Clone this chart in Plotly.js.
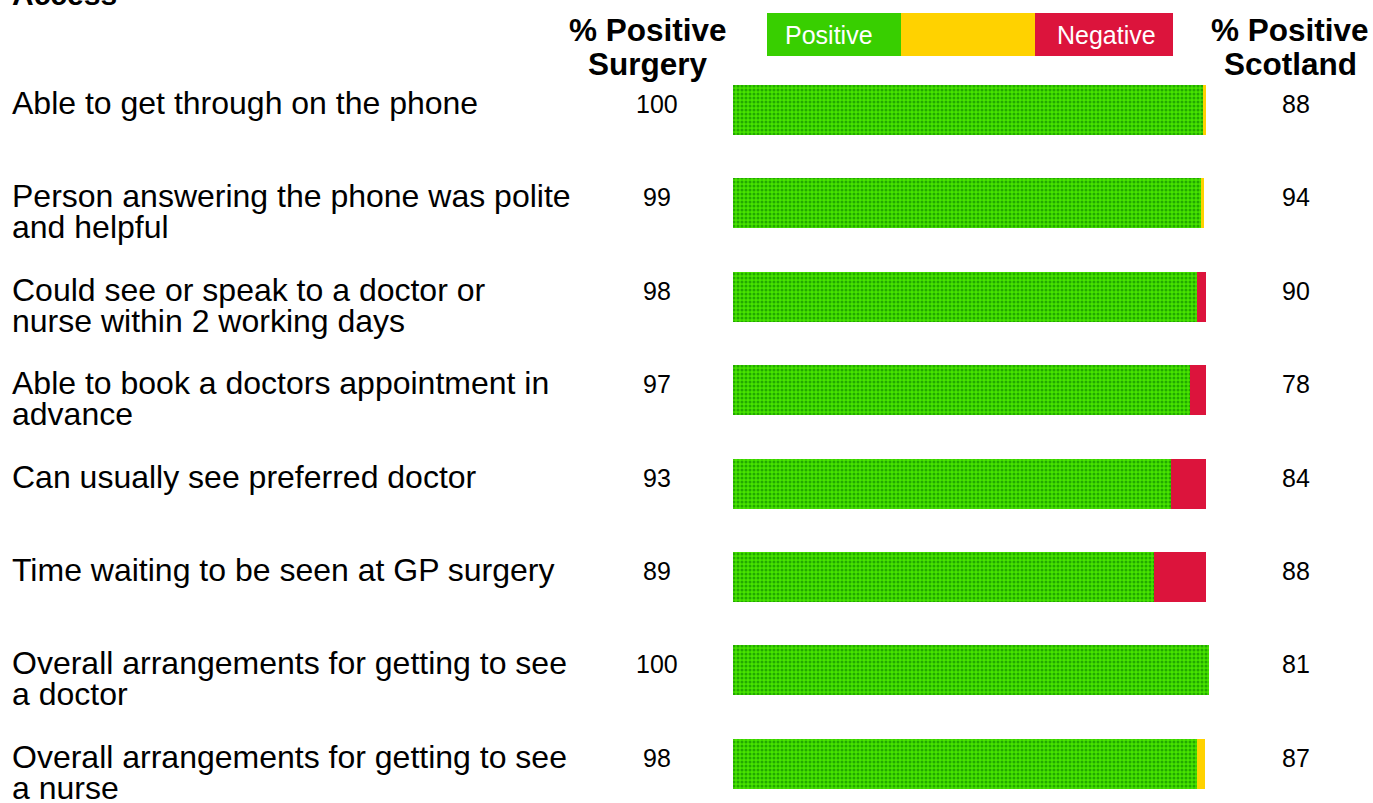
<!DOCTYPE html>
<html>
<head>
<meta charset="utf-8">
<script src="https://cdn.plot.ly/plotly-3.0.1.min.js"></script>
<style>html,body{margin:0;padding:0;background:#fff;}#chart{width:1373px;height:803px;}</style>
</head>
<body>
<div id="chart"></div>
<script>
// ---- data ----
const categories = [
  "Able to get through on the phone",
  "Person answering the phone was polite<br>and helpful",
  "Could see or speak to a doctor or<br>nurse within 2 working days",
  "Able to book a doctors appointment in<br>advance",
  "Can usually see preferred doctor",
  "Time waiting to be seen at GP surgery",
  "Overall arrangements for getting to see<br>a doctor",
  "Overall arrangements for getting to see<br>a nurse"
];
const positive = [98.8, 98.3, 97.5, 96.0, 92.0, 88.4, 100, 97.5];
const neutral  = [0.6, 0.7, 0, 0, 0, 0, 0, 1.7];
const negative = [0, 0, 1.9, 3.4, 7.4, 11.0, 0, 0];
const surgeryPct  = [100, 99, 98, 97, 93, 89, 100, 98];
const scotlandPct = [88, 94, 90, 78, 84, 88, 81, 87];
const title = "Access";
const surgeryHeader = "% Positive<br>Surgery";
const scotlandHeader = "% Positive<br>Scotland";
const legendLabels = ["Positive", "", "Negative"];

// ---- styling ----
const FONT = "Arial, 'Liberation Sans', sans-serif";
const GREEN = "#38cf00", GREEN_DARK = "#22a800", GREEN_LIGHT = "#48e400";
const YELLOW = "#ffd200";
const RED = "#dc143c";
const W = 1373, H = 803;

const ids = categories.map((c, i) => i);

const traces = [
  {type: 'bar', orientation: 'h', name: 'Positive', y: ids, x: positive, width: 0.536,
   marker: {color: GREEN_LIGHT, line: {width: 0},
            pattern: {shape: '.', fgcolor: GREEN_DARK, bgcolor: GREEN_LIGHT, size: 4, solidity: 0.45, fillmode: 'replace'}},
   hoverinfo: 'x+name'},
  {type: 'bar', orientation: 'h', name: 'Neutral', y: ids, x: neutral, width: 0.536,
   marker: {color: YELLOW, line: {width: 0}}, hoverinfo: 'x+name'},
  {type: 'bar', orientation: 'h', name: 'Negative', y: ids, x: negative, width: 0.536,
   marker: {color: RED, line: {width: 0}}, hoverinfo: 'x+name'}
];

// pixel -> paper helpers (layout only)
const px = v => v / W;
const py = v => 1 - v / H;

const annotations = [];
// title (cut at top, as in the reference)
annotations.push({xref: 'paper', yref: 'paper', x: px(10), y: 1, xanchor: 'left', yanchor: 'bottom',
  yshift: -13, text: '<b>' + title + '</b>', showarrow: false, font: {family: FONT, size: 30, color: '#000'}});

// headers (one annotation per line for tight line spacing)
function header(txt, cx) {
  txt.split('<br>').forEach((ln, j) => {
    annotations.push({xref: 'paper', yref: 'paper', x: px(cx), y: py(30 + 34 * j), xanchor: 'center', yanchor: 'middle',
      text: '<b>' + ln + '</b>', showarrow: false, font: {family: FONT, size: 31.5, color: '#000'}});
  });
}
header(surgeryHeader, 648);
header(scotlandHeader, 1290);

// legend texts
annotations.push({xref: 'paper', yref: 'paper', x: px(829), y: py(35), xanchor: 'center', yanchor: 'middle',
  text: legendLabels[0], showarrow: false, font: {family: FONT, size: 25, color: '#fff'}});
annotations.push({xref: 'paper', yref: 'paper', x: px(1106), y: py(35), xanchor: 'center', yanchor: 'middle',
  text: legendLabels[2], showarrow: false, font: {family: FONT, size: 25, color: '#fff'}});

categories.forEach((c, i) => {
  const lines = c.split('<br>');
  lines.forEach((ln, j) => {
    annotations.push({xref: 'paper', yref: 'y', x: px(10), y: i, xanchor: 'left', yanchor: 'middle',
      yshift: 7 - 31 * j, text: ln, showarrow: false, font: {family: FONT, size: 32, color: '#000'}});
  });
  annotations.push({xref: 'paper', yref: 'y', x: px(657), y: i, xanchor: 'center', yanchor: 'middle',
    yshift: 6, text: String(surgeryPct[i]), showarrow: false, font: {family: FONT, size: 25, color: '#000'}});
  annotations.push({xref: 'paper', yref: 'y', x: px(1296), y: i, xanchor: 'center', yanchor: 'middle',
    yshift: 6, text: String(scotlandPct[i]), showarrow: false, font: {family: FONT, size: 25, color: '#000'}});
});

const shapes = [
  {type: 'rect', xref: 'paper', yref: 'paper', x0: px(767), x1: px(901), y0: py(56), y1: py(13), fillcolor: GREEN, line: {width: 0}},
  {type: 'rect', xref: 'paper', yref: 'paper', x0: px(901), x1: px(1035), y0: py(56), y1: py(13), fillcolor: YELLOW, line: {width: 0}},
  {type: 'rect', xref: 'paper', yref: 'paper', x0: px(1035), x1: px(1173), y0: py(56), y1: py(13), fillcolor: RED, line: {width: 0}}
];

// axis ranges: x=0 at 733px, x=100 at 1209px ; row i centre at 110 + 93.4*i px
const pxPerUnit = 476 / 100;
const x0 = -733 / pxPerUnit;
const x1 = x0 + W / pxPerUnit;
const rowPx = 93.4;
const yTop = -110 / rowPx;
const yBot = yTop + H / rowPx;

const layout = {
  width: W, height: H,
  margin: {l: 0, r: 0, t: 0, b: 0, pad: 0},
  paper_bgcolor: '#fff', plot_bgcolor: '#fff',
  barmode: 'stack', bargap: 0,
  showlegend: false,
  xaxis: {range: [x0, x1], visible: false, fixedrange: true},
  yaxis: {range: [yBot, yTop], visible: false, fixedrange: true},
  annotations: annotations,
  shapes: shapes
};

Plotly.newPlot('chart', traces, layout, {displayModeBar: false, staticPlot: true});
</script>
</body>
</html>
